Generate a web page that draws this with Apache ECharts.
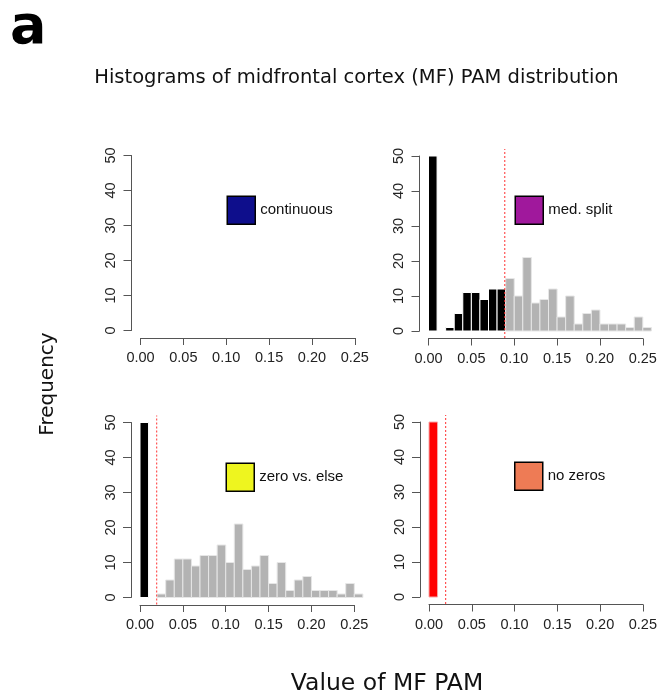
<!DOCTYPE html>
<html>
<head>
<meta charset="utf-8">
<script src="https://cdn.jsdelivr.net/npm/echarts@6/dist/echarts.min.js"></script>
<style>
  html, body { margin: 0; padding: 0; background: #fff; }
  #chart { width: 660px; height: 699px; }
</style>
</head>
<body>
<div id="chart"></div>
<script>
// histogram bins of MF PAM (width 0.01), counts
const binStarts = [0.00, 0.01, 0.02, 0.03, 0.04, 0.05, 0.06, 0.07, 0.08, 0.09, 0.10, 0.11, 0.12,
  0.13, 0.14, 0.15, 0.16, 0.17, 0.18, 0.19, 0.20, 0.21, 0.22, 0.23, 0.24, 0.25]
const binCounts = [50, 0, 1, 5, 11, 11, 9, 12, 12, 15, 10, 21, 8,
  9, 12, 4, 10, 2, 5, 6, 2, 2, 2, 1, 4, 1]
const binWidth = 0.01

// panel names and legend colours
const panelNames = ['continuous', 'med. split', 'zero vs. else', 'no zeros']
const panelColors = ['#0e0e8c', '#a0189c', '#eef51f', '#ee7b55']

// split thresholds (dotted red lines)
const medianSplit = 0.089
const zeroSplit = 0.0195

const chart = echarts.init(document.getElementById('chart'))

const gridPos = [
  { left: 140.5, top: 155.5 },
  { left: 428.5, top: 156 },
  { left: 140, top: 422.5 },
  { left: 429, top: 422 }
]

const grids = gridPos.map(p => ({ left: p.left, top: p.top, width: 214.3, height: 175 }))

const xAxes = grids.map((g, i) => ({
  type: 'value',
  gridIndex: i,
  min: 0,
  max: 0.25,
  interval: 0.05,
  offset: 7.5,
  splitLine: { show: false },
  axisLine: { show: true, onZero: false, lineStyle: { color: '#555', width: 1 } },
  axisTick: { show: true, length: 7, lineStyle: { color: '#555' } },
  axisLabel: {
    margin: 12.5,
    color: '#222',
    fontFamily: 'Liberation Sans',
    fontSize: 14.5,
    formatter: v => v.toFixed(2)
  }
}))

const yAxes = grids.map((g, i) => ({
  type: 'value',
  gridIndex: i,
  min: 0,
  max: 50,
  interval: 10,
  offset: 9,
  splitLine: { show: false },
  axisLine: { show: true, onZero: false, lineStyle: { color: '#555', width: 1 } },
  axisTick: { show: true, length: 8, lineStyle: { color: '#555' } },
  axisLabel: {
    rotate: 90,
    margin: 13,
    color: '#222',
    fontFamily: 'Liberation Sans',
    fontSize: 14.5
  }
}))

function histData(colorFor) {
  const out = []
  binStarts.forEach((s, i) => {
    const c = colorFor(i, s)
    if (c && binCounts[i] > 0) out.push({ value: [s, s + binWidth, binCounts[i]], fill: c.fill, stroke: c.stroke })
  })
  return out
}

function barRender(data) {
  return function(params, api) {
    const d = data[params.dataIndex]
    const p0 = api.coord([api.value(0), api.value(2)])
    const p1 = api.coord([api.value(1), 0])
    return {
      type: 'rect',
      shape: { x: p0[0], y: p0[1], width: p1[0] - p0[0], height: p1[1] - p0[1] },
      style: { fill: d.fill, stroke: d.stroke, lineWidth: 1 }
    }
  }
}

function vlineRender(params, api) {
  const a = api.coord([api.value(0), -2])
  const b = api.coord([api.value(0), 52])
  return {
    type: 'line',
    shape: { x1: a[0], y1: a[1], x2: b[0], y2: b[1] },
    style: { stroke: '#ff3030', lineWidth: 1, lineDash: [2, 2] }
  }
}

const gray = { fill: '#b3b3b3', stroke: '#e6e6e6' }
const black = { fill: '#000', stroke: '#fff' }

const medData = histData((i, s) => (s < medianSplit - 0.005 ? black : gray))
const zeroData = histData((i, s) => (s < zeroSplit ? black : gray))
const noZeroData = histData((i, s) => (s < zeroSplit ? { fill: '#ff0000', stroke: '#f7a8a8' } : null))

const series = [
  { name: panelNames[0], type: 'custom', xAxisIndex: 0, yAxisIndex: 0, data: [], renderItem: () => null },
  { name: panelNames[1], type: 'custom', xAxisIndex: 1, yAxisIndex: 1, clip: false, data: medData, renderItem: barRender(medData) },
  { name: panelNames[2], type: 'custom', xAxisIndex: 2, yAxisIndex: 2, clip: false, data: zeroData, renderItem: barRender(zeroData) },
  { name: panelNames[3], type: 'custom', xAxisIndex: 3, yAxisIndex: 3, clip: false, data: noZeroData, renderItem: barRender(noZeroData) },
  { name: 'split1', type: 'custom', xAxisIndex: 1, yAxisIndex: 1, clip: false, data: [[medianSplit]], renderItem: vlineRender, z: 5 },
  { name: 'split2', type: 'custom', xAxisIndex: 2, yAxisIndex: 2, clip: false, data: [[zeroSplit]], renderItem: vlineRender, z: 5 },
  { name: 'split3', type: 'custom', xAxisIndex: 3, yAxisIndex: 3, clip: false, data: [[zeroSplit]], renderItem: vlineRender, z: 5 }
]

const legendPos = [
  { left: 226.5, top: 195.5 },
  { left: 514.5, top: 195.5 },
  { left: 225.5, top: 462.5 },
  { left: 514, top: 461.5 }
]

const legends = legendPos.map((p, i) => ({
  left: p.left,
  top: p.top,
  padding: 0,
  selectedMode: false,
  icon: 'rect',
  itemWidth: 28,
  itemHeight: 28,
  textStyle: { fontFamily: 'Liberation Sans', fontSize: 15, color: '#111', padding: [0, 0, 0, 0] },
  data: [{
    name: panelNames[i],
    itemStyle: { color: panelColors[i], borderColor: '#000', borderWidth: 1.5 }
  }]
}))

const option = {
  animation: false,
  backgroundColor: '#fff',
  grid: grids,
  xAxis: xAxes,
  yAxis: yAxes,
  legend: legends,
  series: series,
  graphic: [
    {
      type: 'text', left: 10, top: 2,
      style: { text: 'a', font: 'bold 54px "DejaVu Sans"', fill: '#000' }
    },
    {
      type: 'text', x: 356.5, y: 78,
      style: { text: 'Histograms of midfrontal cortex (MF) PAM distribution', font: '19.5px "DejaVu Sans"', fill: '#111', align: 'center', verticalAlign: 'middle' }
    },
    {
      type: 'text', x: 48, y: 384, rotation: Math.PI / 2,
      style: { text: 'Frequency', font: '20px "DejaVu Sans"', fill: '#111', align: 'center', verticalAlign: 'middle' }
    },
    {
      type: 'text', x: 387, y: 684,
      style: { text: 'Value of MF PAM', font: '23.5px "DejaVu Sans"', fill: '#111', align: 'center', verticalAlign: 'middle' }
    }
  ]
}

chart.setOption(option)
</script>
</body>
</html>
